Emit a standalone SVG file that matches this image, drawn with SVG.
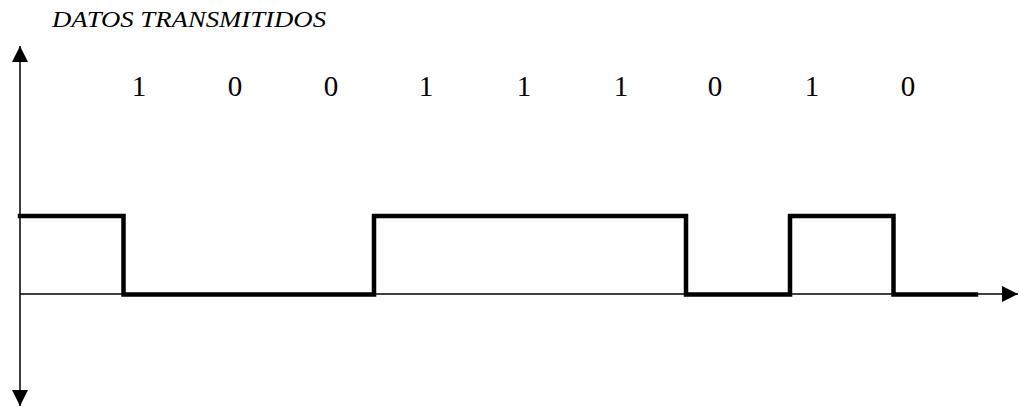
<svg xmlns="http://www.w3.org/2000/svg" width="1019" height="407" viewBox="0 0 1019 407">
<style>
.title{font-family:"Liberation Serif","Times New Roman",serif;font-style:italic;font-size:24px;fill:#000}
.bit{font-family:"Liberation Serif","Times New Roman",serif;font-size:29px;fill:#000;text-anchor:middle}
.axis{stroke:#000;stroke-width:1.5;fill:none}
.pulse{stroke:#000;stroke-width:4.5;fill:none;stroke-linejoin:miter;stroke-linecap:square}
</style>
<defs>
<marker id="ah" viewBox="0 0 16 16" refX="16" refY="8" markerWidth="16" markerHeight="16" markerUnits="userSpaceOnUse" orient="auto">
<path d="M0,0 L16,8 L0,16 Z" fill="#000"/>
</marker>
</defs>
<rect width="1019" height="407" fill="#fff"/>
<g id="title"><text class="title" x="52" y="27" textLength="274" lengthAdjust="spacingAndGlyphs">DATOS TRANSMITIDOS</text></g>
<g id="bits">
<text class="bit" x="139" y="96">1</text>
<text class="bit" x="235" y="96">0</text>
<text class="bit" x="331" y="96">0</text>
<text class="bit" x="426" y="96">1</text>
<text class="bit" x="524" y="96">1</text>
<text class="bit" x="621" y="96">1</text>
<text class="bit" x="715" y="96">0</text>
<text class="bit" x="812" y="96">1</text>
<text class="bit" x="908" y="96">0</text>
</g>
<g id="connectors">
<line id="y-axis-up" class="axis" x1="20" y1="294" x2="20" y2="46" marker-end="url(#ah)"/>
<line id="y-axis-down" class="axis" x1="20" y1="294" x2="20" y2="406" marker-end="url(#ah)"/>
<line id="x-axis" class="axis" x1="20" y1="294" x2="1018" y2="294" marker-end="url(#ah)"/>
</g>
<g id="signal">
<path class="pulse" d="M20,216 H123.5 V294.5 H374 V216 H686 V294.5 H790 V216 H893.5 V294.5 H976"/>
</g>
</svg>
